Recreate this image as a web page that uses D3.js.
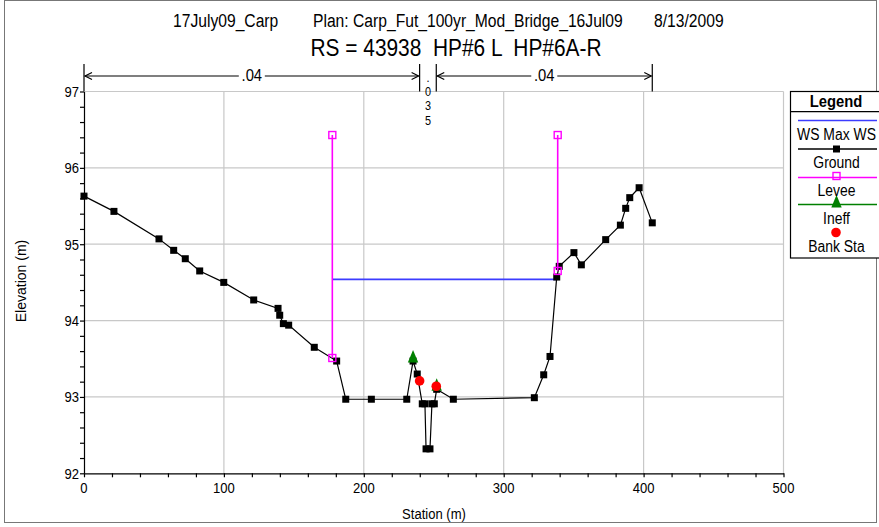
<!DOCTYPE html>
<html><head><meta charset="utf-8">
<script src="https://cdn.jsdelivr.net/npm/d3@7"></script>
<style>body{margin:0;background:#fff}svg{display:block}text{white-space:pre}</style>
</head><body>
<script>
// ---- data ----
const groundStation = [0,21.4,53.6,64.1,72.4,82.7,99.9,121.3,138.7,139.9,142.5,146.3,164.6,180.6,187.1,205.4,230.7,235.2,238.2,241.8,243.7,244.5,247.3,248.7,250.4,252.1,264.0,321.9,328.6,333.1,337.9,339.7,350.2,355.5,372.9,383.4,387.2,390.1,396.8,406.2];
const groundElev = [95.63,95.43,95.07,94.92,94.81,94.65,94.50,94.27,94.16,94.07,93.96,93.94,93.65,93.47,92.97,92.97,92.97,93.47,93.30,92.91,92.91,92.32,92.32,92.91,92.91,93.10,92.97,92.99,93.29,93.53,94.57,94.71,94.89,94.73,95.06,95.25,95.47,95.61,95.74,95.28];
const leveeStation = [177.5, 338.6];
const leveeBaseElev = [93.51, 94.65];
const leveeTopElev = [96.43, 96.43];
const ineffStation = [235.2, 252.1];
const ineffElev = [93.47, 93.10];
const bankStation = [239.9, 251.8];
const bankElev = [93.21, 93.14];
const wsElev = 94.54;
const wsStation = [177.5, 337.9];
const nBreaks = [0, 239.9, 251.8, 406.2];
const nValues = [".04", ".035", ".04"];
const xTicks = [0,100,200,300,400,500];
const yTicks = [92,93,94,95,96,97];
const legendItems = ["WS Max WS","Ground","Levee","Ineff","Bank Sta"];
const titleParts = ["17July09_Carp","Plan: Carp_Fut_100yr_Mod_Bridge_16Jul09","8/13/2009"];
const title2 = "RS = 43938  HP#6 L  HP#6A-R";

const W = 879, H = 527;
const FONT = "'Liberation Sans', Arial, sans-serif";
const SX = 0.87;
const svg = d3.select("body").append("svg").attr("width", W).attr("height", H);

const x = d3.scaleLinear().domain([0,500]).range([84,783.5]);
const y = d3.scaleLinear().domain([92,97]).range([473.3,91.5]);

function txt(parent, px, py, s, size, anchor, weight) {
  const g = parent.append("g").attr("transform", `translate(${px},${py}) scale(${SX},1)`);
  return g.append("text").attr("x",0).attr("y",0).attr("text-anchor", anchor || "start")
    .attr("xml:space", "preserve")
    .style("font-family", FONT).style("font-size", size + "px")
    .style("font-weight", weight || "normal").attr("fill", "#000").text(s);
}

// outer frame
svg.append("rect").attr("x",4.5).attr("y",0.5).attr("width",872).attr("height",522)
  .attr("fill","none").attr("stroke","#777").attr("stroke-width",1);

// titles
txt(svg, 173, 27, titleParts[0], 18, "start");
txt(svg, 313, 27, titleParts[1], 18, "start");
txt(svg, 654, 27, titleParts[2], 18, "start");
txt(svg, 456, 56, title2, 24, "middle");

// grid
const grid = svg.append("g");
xTicks.filter(d => d > 0).forEach(d => {
  grid.append("line").attr("x1", x(d)).attr("x2", x(d)).attr("y1", y(92)).attr("y2", y(97))
    .attr("stroke", "#c8c8c8").attr("stroke-width", 1.2);
});
yTicks.filter(d => d > 92).forEach(d => {
  grid.append("line").attr("x1", x(0)).attr("x2", x(500)).attr("y1", y(d)).attr("y2", y(d))
    .attr("stroke", "#c8c8c8").attr("stroke-width", 1.2);
});

// axes
const minorX = d3.range(0, 500.1, 20);
const minorY = d3.range(92, 97.01, 0.2);
const ax = svg.append("g").attr("transform", `translate(0,${y(92)})`)
  .call(d3.axisBottom(x).tickValues(minorX).tickSize(4).tickSizeOuter(0).tickFormat(""));
const ay = svg.append("g").attr("transform", `translate(${x(0)},0)`)
  .call(d3.axisLeft(y).tickValues(minorY).tickSize(4).tickSizeOuter(0).tickFormat(""));
[ax, ay].forEach(a => { a.selectAll("path,line").attr("stroke", "#000").attr("stroke-width", 1.2); });

xTicks.forEach(d => txt(svg, x(d), 493, String(d), 15, "middle"));
yTicks.forEach(d => txt(svg, 79, y(d) + 5.3, String(d), 15, "end"));

txt(svg, 434, 519, "Station (m)", 15, "middle");
svg.append("text").attr("transform", "translate(26,281) rotate(-90)")
  .attr("text-anchor", "middle").style("font-family", FONT).style("font-size", "14px")
  .text("Elevation (m)");

// Manning's n annotation
const ann = svg.append("g").attr("stroke", "#000").attr("stroke-width", 1.2);
const annY = 76;
nBreaks.forEach(b => {
  ann.append("line").attr("x1", x(b)).attr("x2", x(b)).attr("y1", 64).attr("y2", y(97)).attr("stroke", "#000");
});
function arrowSeg(a, b, label) {
  const xa = x(a) + 1, xb = x(b) - 1, mid = (xa + xb) / 2;
  ann.append("line").attr("x1", xa).attr("x2", mid - 13).attr("y1", annY).attr("y2", annY);
  ann.append("line").attr("x1", mid + 13).attr("x2", xb).attr("y1", annY).attr("y2", annY);
  ann.append("path").attr("fill", "none").attr("d", `M${xa+7},${annY-3.5}L${xa},${annY}L${xa+7},${annY+3.5}`);
  ann.append("path").attr("fill", "none").attr("d", `M${xb-7},${annY-3.5}L${xb},${annY}L${xb-7},${annY+3.5}`);
  txt(svg, mid, annY + 5, label, 17, "middle");
}
arrowSeg(nBreaks[0], nBreaks[1], nValues[0]);
arrowSeg(nBreaks[2], nBreaks[3], nValues[2]);
const midX = (x(nBreaks[1]) + x(nBreaks[2])) / 2;
nValues[1].split("").forEach((c, i) => {
  txt(svg, midX, 82 + i * 14.2, c, 12.5, "middle");
});

// water surface
svg.append("line").attr("x1", x(wsStation[0])).attr("x2", x(wsStation[1]))
  .attr("y1", y(wsElev)).attr("y2", y(wsElev)).attr("stroke", "#3c3cff").attr("stroke-width", 1.8);

// ground
const gpts = groundStation.map((s, i) => [s, groundElev[i]]);
svg.append("path").attr("d", d3.line().x(d => x(d[0])).y(d => y(d[1]))(gpts))
  .attr("fill", "none").attr("stroke", "#000").attr("stroke-width", 1.2);
svg.append("g").selectAll("rect").data(gpts).join("rect")
  .attr("x", d => x(d[0]) - 3.5).attr("y", d => y(d[1]) - 3.5).attr("width", 7).attr("height", 7).attr("fill", "#000");

// levees
leveeStation.forEach((s, i) => {
  svg.append("line").attr("x1", x(s)).attr("x2", x(s)).attr("y1", y(leveeBaseElev[i])).attr("y2", y(leveeTopElev[i]))
    .attr("stroke", "#ff00ff").attr("stroke-width", 1.6);
  [leveeBaseElev[i], leveeTopElev[i]].forEach(e => {
    svg.append("rect").attr("x", x(s) - 3.5).attr("y", y(e) - 3.5).attr("width", 7).attr("height", 7)
      .attr("fill", "none").attr("stroke", "#ff00ff").attr("stroke-width", 1.4);
  });
});

// ineffective triangles
const triPath = "M0,-12.5L5.2,0L-5.2,0Z";
ineffStation.forEach((s, i) => {
  svg.append("path").attr("d", triPath).attr("transform", `translate(${x(s)},${y(ineffElev[i]) + 1.5})`).attr("fill", "#008000");
});
// bank stations
bankStation.forEach((s, i) => {
  svg.append("circle").attr("cx", x(s)).attr("cy", y(bankElev[i])).attr("r", 4.8).attr("fill", "#ff0000");
});

// legend
const lg = svg.append("g");
lg.append("rect").attr("x", 790.5).attr("y", 91.5).attr("width", 90).attr("height", 166.5)
  .attr("fill", "#fff").attr("stroke", "#000").attr("stroke-width", 1.2);
lg.append("line").attr("x1", 790.5).attr("x2", 879).attr("y1", 111.7).attr("y2", 111.7).attr("stroke", "#000").attr("stroke-width", 1.2);
txt(lg, 836, 107, "Legend", 17, "middle", "bold");
const lx1 = 798, lx2 = 877, lcx = 836.5;
const sampleY = [120.5, 149, 177.5, 204.5, 232.5];
const labelY = [139.5, 167.5, 196, 224, 252];
const colors = ["#3c3cff", "#000", "#ff00ff", "#008000", "#ff0000"];
[0,1,2,3].forEach(i => {
  lg.append("line").attr("x1", lx1).attr("x2", lx2).attr("y1", sampleY[i]).attr("y2", sampleY[i])
    .attr("stroke", colors[i]).attr("stroke-width", i === 0 ? 1.6 : 1.3);
});
lg.append("rect").attr("x", lcx - 3.5).attr("y", sampleY[1] - 3.5).attr("width", 7).attr("height", 7).attr("fill", "#000");
lg.append("rect").attr("x", lcx - 3.5).attr("y", sampleY[2] - 5).attr("width", 7).attr("height", 7)
  .attr("fill", "none").attr("stroke", "#ff00ff").attr("stroke-width", 1.4);
lg.append("path").attr("d", triPath).attr("transform", `translate(${lcx},${sampleY[3] + 3})`).attr("fill", "#008000");
lg.append("circle").attr("cx", lcx - 0.5).attr("cy", sampleY[4]).attr("r", 4.8).attr("fill", "#ff0000");
legendItems.forEach((t, i) => txt(lg, lcx, labelY[i], t, 16, "middle"));
</script>
</body></html>
